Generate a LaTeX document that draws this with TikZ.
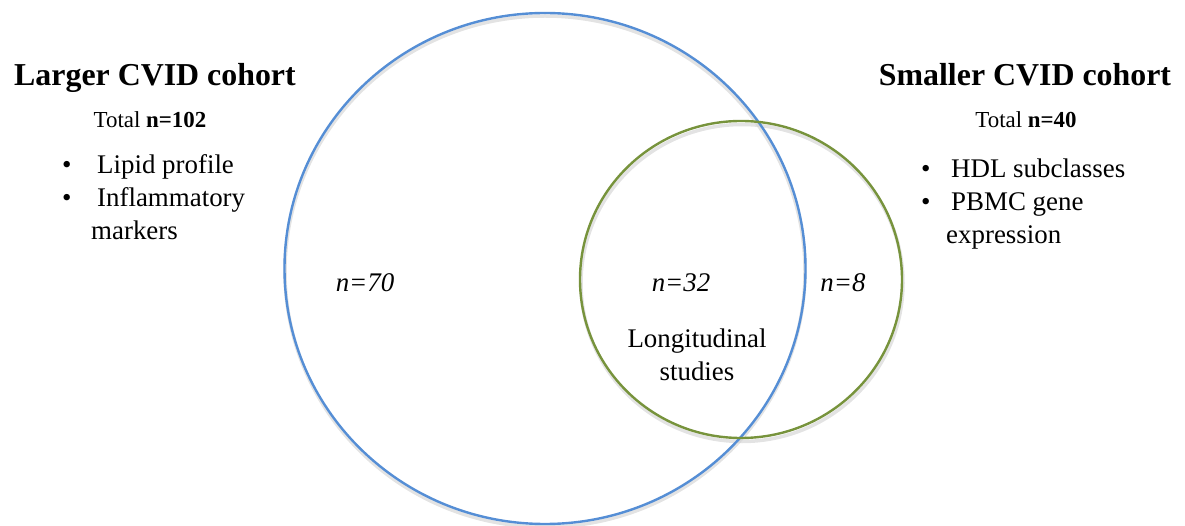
\documentclass[tikz,border=0pt]{standalone}
\usepackage{fontspec}
\setmainfont{Liberation Serif}
\definecolor{bigblue}{HTML}{558ED5}
\definecolor{smallgreen}{HTML}{77933C}
\begin{document}
\begin{tikzpicture}[x=1bp,y=-1bp,
  ring/.style={line width=2.4bp},
  shade ring/.style={line width=3.5bp, draw=black!18, opacity=0.6},
  title/.style={font=\fontsize{32}{38}\selectfont\bfseries, inner sep=0pt, anchor=base},
  total/.style={font=\fontsize{23}{28}\selectfont, inner sep=0pt, anchor=base},
  body/.style={font=\fontsize{27}{32}\selectfont, inner sep=0pt, anchor=base west},
  centred/.style={font=\fontsize{27}{32}\selectfont, inner sep=0pt, anchor=base},
  num/.style={font=\fontsize{27}{32}\selectfont\itshape, inner sep=0pt, anchor=base}]
\useasboundingbox (0,0) rectangle (1185,526);
% shadows
\draw[shade ring] (545,271.5) ellipse [x radius=260, y radius=255.5];
\draw[shade ring] (742,283) ellipse [x radius=161, y radius=158.5];
% circles
\draw[ring, draw=bigblue] (545,268.5) ellipse [x radius=260.5, y radius=255.5];
\draw[ring, draw=smallgreen] (741,279.5) ellipse [x radius=161, y radius=158.5];
% left texts
\node[title] (lt) at (155,86) {Larger CVID cohort};
\node[total] (ltot) at (150,128) {Total \textbf{n=102}};
\node[body] (lb1d) at (62,174) {•};
\node[body] (lb1) at (97,174) {Lipid profile};
\node[body] (lb2d) at (62,207) {•};
\node[body] (lb2) at (97,207) {Inflammatory};
\node[body] (lb3) at (91,240) {markers};
% right texts
\node[title] (rt) at (1025,86) {Smaller CVID cohort};
\node[total] (rtot) at (1026,128) {Total \textbf{n=40}};
\node[body] (rb1d) at (921,178) {•};
\node[body] (rb1) at (951,178) {HDL subclasses};
\node[body] (rb2d) at (921,211) {•};
\node[body] (rb2) at (951,211) {PBMC gene};
\node[body] (rb3) at (946,244) {expression};
% inner labels
\node[num] (n70) at (365,292) {n=70};
\node[num] (n32) at (681,292) {n=32};
\node[num] (n8) at (843,292) {n=8};
\node[centred] (lg1) at (697,348) {Longitudinal};
\node[centred] (lg2) at (697,381) {studies};
\end{tikzpicture}
\end{document}
